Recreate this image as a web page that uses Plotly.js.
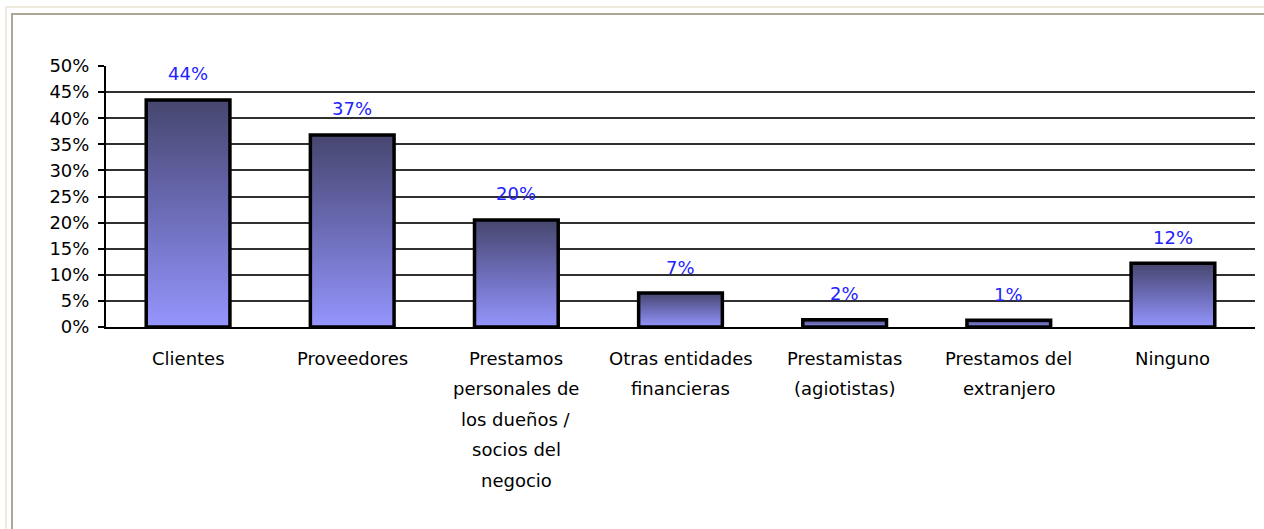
<!DOCTYPE html>
<html>
<head>
<meta charset="utf-8">
<script src="https://cdn.plot.ly/plotly-3.0.1.min.js"></script>
<style>
  html, body { margin: 0; padding: 0; background: #ffffff; overflow: hidden; }
  #wrap { position: relative; width: 1264px; height: 529px; }
  #f1 { position: absolute; left: 5px; top: 6px; right: 0; bottom: 0; border-left: 2px solid #efebdf; border-top: 2px solid #efebdf; }
  #f2 { position: absolute; left: 11px; top: 13px; right: 0; bottom: 0; border-left: 2px solid #aca899; border-top: 2px solid #aca899; }
  #chart { position: absolute; left: 0; top: 0; width: 1264px; height: 529px; }
</style>
</head>
<body>
<div id="wrap">
  <div id="f1"></div>
  <div id="f2"></div>
  <div id="chart"></div>
</div>
<script>
// Data
var categories = [
  ["Clientes"],
  ["Proveedores"],
  ["Prestamos", "personales de", "los dueños /", "socios del", "negocio"],
  ["Otras entidades", "financieras"],
  ["Prestamistas", "(agiotistas)"],
  ["Prestamos del", "extranjero"],
  ["Ninguno"]
];
var values = [43.5, 36.8, 20.5, 6.5, 1.4, 1.3, 12.2];
var valueLabels = ["44%", "37%", "20%", "7%", "2%", "1%", "12%"];
var yTickValues = [0, 5, 10, 15, 20, 25, 30, 35, 40, 45, 50];

var FONT = "DejaVu Sans, Arial, sans-serif";
var HALF = 0.255;

var traces = [];
values.forEach(function (v, i) {
  traces.push({
    type: "scatter",
    mode: "lines",
    x: [i - HALF, i + HALF, i + HALF, i - HALF, i - HALF],
    y: [0, 0, v, v, 0],
    fill: "toself",
    fillgradient: {
      type: "vertical",
      colorscale: [[0, "#9595fd"], [0.5, "#6c6cb8"], [1, "#46466e"]]
    },
    line: { color: "#000000", width: 3.5 },
    hoverinfo: "skip",
    showlegend: false
  });
});

var annotations = [];
values.forEach(function (v, i) {
  annotations.push({
    xref: "x", yref: "y", x: i, y: v,
    text: valueLabels[i], showarrow: false,
    yanchor: "middle", yshift: 26,
    font: { family: FONT, size: 18, color: "#2222ff" }
  });
});
categories.forEach(function (lines, i) {
  lines.forEach(function (line, k) {
    annotations.push({
      xref: "x", yref: "paper", x: i, y: 0,
      text: line, showarrow: false,
      yanchor: "middle", yshift: -(31 + k * 30.5),
      font: { family: FONT, size: 18, color: "#000000" }
    });
  });
});

var layout = {
  width: 1264, height: 529,
  margin: { l: 106, r: 9, t: 66, b: 202 },
  paper_bgcolor: "rgba(0,0,0,0)",
  plot_bgcolor: "rgba(0,0,0,0)",
  showlegend: false,
  xaxis: {
    type: "linear",
    range: [-0.5, 6.5],
    showticklabels: false,
    showgrid: false,
    zeroline: false,
    ticks: "",
    showline: true, linecolor: "#000000", linewidth: 2,
    fixedrange: true
  },
  yaxis: {
    range: [0, 50],
    tickvals: yTickValues,
    ticktext: yTickValues.map(function (t) { return t + "%"; }),
    ticks: "outside", ticklen: 6, tickcolor: "#000000", tickwidth: 2,
    ticklabelstandoff: 5,
    showline: true, linecolor: "#000000", linewidth: 2,
    showgrid: true, gridcolor: "#303030", gridwidth: 2,
    zeroline: false,
    tickfont: { family: FONT, size: 18, color: "#000000" },
    fixedrange: true
  },
  annotations: annotations
};

Plotly.newPlot("chart", traces, layout, { displayModeBar: false, staticPlot: true });
</script>
</body>
</html>
